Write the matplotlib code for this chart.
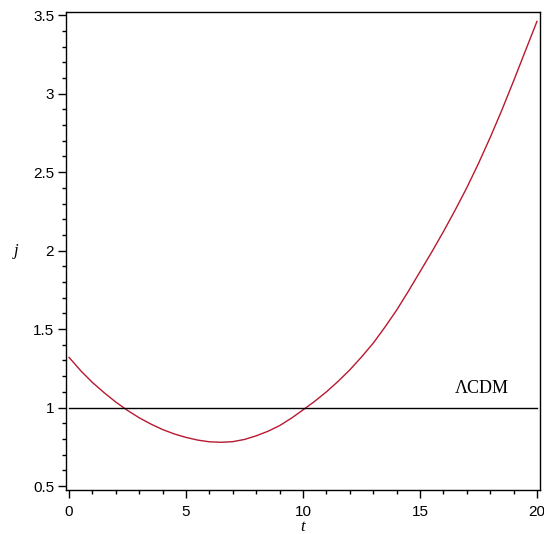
import numpy as np
import matplotlib
matplotlib.use("Agg")
import matplotlib.pyplot as plt
from matplotlib.ticker import MultipleLocator

# values
t = [0, 0.5, 1, 1.5, 2, 2.5, 3, 3.5, 4, 4.5, 5, 5.5, 6, 6.5, 7, 7.5, 8, 8.5, 9, 9.5,
     10, 10.5, 11, 11.5, 12, 12.5, 13, 13.5, 14, 14.5, 15, 15.5, 16, 16.5, 17, 17.5,
     18, 18.5, 19, 19.5, 20]
j = [1.32, 1.235, 1.16, 1.095, 1.035, 0.982, 0.935, 0.895, 0.86, 0.832, 0.81, 0.793,
     0.782, 0.779, 0.783, 0.797, 0.82, 0.849, 0.885, 0.932, 0.985, 1.04, 1.10, 1.167,
     1.24, 1.322, 1.41, 1.512, 1.62, 1.74, 1.865, 1.99, 2.12, 2.257, 2.40, 2.555,
     2.72, 2.895, 3.08, 3.27, 3.46]
lcdm_t = [0, 20]
lcdm_j = [1, 1]
label_text = "\u039bCDM"

fig = plt.figure(figsize=(5.44, 5.34), dpi=100)
ax = fig.add_axes([0.1213, 0.0824, 0.8713, 0.8951])

ax.plot(t, j, color="#b8182f", lw=1.0)
ax.plot(lcdm_t, lcdm_j, color="black", lw=1.0)
ax.text(17.65, 1.12, label_text, family="Liberation Serif", fontsize=13,
        ha="center", va="center")

ax.set_xlim(-0.13, 20.13)
ax.set_ylim(0.475, 3.52)
ax.xaxis.set_major_locator(MultipleLocator(5))
ax.xaxis.set_minor_locator(MultipleLocator(1))
ax.yaxis.set_minor_locator(MultipleLocator(0.1))
ax.set_yticks([0.5, 1, 1.5, 2, 2.5, 3, 3.5])
ax.set_yticklabels(["0.5", "1", "1.5", "2", "2.5", "3", "3.5"])

ax.tick_params(which="major", length=5.5, width=1.0, direction="out",
               labelsize=11, pad=3)
ax.tick_params(axis="x", which="major", pad=5)
ax.tick_params(which="minor", length=3, width=1.0, direction="out")
for lab in ax.get_xticklabels() + ax.get_yticklabels():
    lab.set_family("Liberation Sans")
for s in ax.spines.values():
    s.set_linewidth(1.0)

ax.set_xlabel("t", family="Liberation Serif", style="italic", fontsize=12, labelpad=0)
ax.set_ylabel("j", family="Liberation Serif", style="italic", fontsize=12,
              rotation=0, labelpad=12, va="center")

fig.savefig("out.png", dpi=100)
